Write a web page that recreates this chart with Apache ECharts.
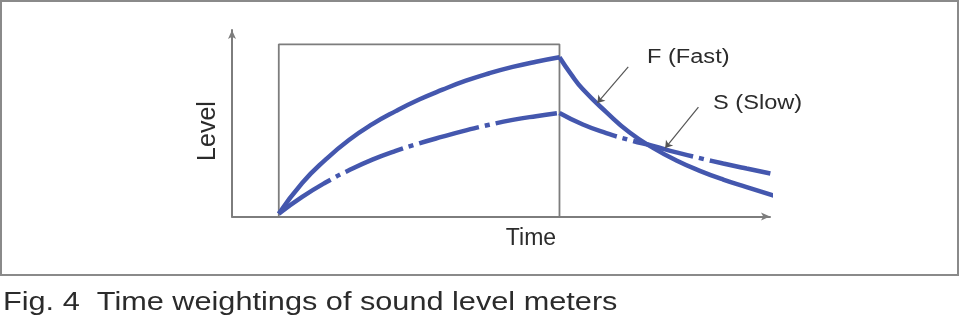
<!DOCTYPE html>
<html><head><meta charset="utf-8">
<script src="https://cdn.jsdelivr.net/npm/echarts@6/dist/echarts.min.js"></script>
<style>html,body{margin:0;padding:0;background:#fff}#c{width:960px;height:323px}</style>
</head><body><div id="c"></div>
<script>
// Time (arbitrary units) / Level (arbitrary units)
const fastRise  = [[1,0.15],[1.5,1.8],[2,3.05],[2.5,4.1],[3,4.95],[3.5,5.65],[4,6.27],[4.5,6.8],[5,7.28],[5.5,7.68],[6,8.02],[6.5,8.3],[7,8.54]];
const fastDecay = [[7,8.54],[7.25,7.62],[7.5,6.82],[8,5.6],[8.5,4.5],[9,3.68],[9.5,3.0],[10,2.45],[10.5,1.98],[11,1.58],[11.6,1.1]];
const slowRise  = [[1,0.15],[1.5,1.05],[2,1.82],[2.5,2.48],[3,3.05],[3.5,3.52],[4,3.92],[4.5,4.28],[5,4.62],[5.5,4.92],[6,5.18],[6.5,5.38],[7,5.55]];
const slowDecay = [[7,5.55],[7.5,4.93],[8,4.47],[8.5,4.1],[9,3.78],[9.5,3.44],[10,3.13],[10.5,2.84],[11,2.57],[11.6,2.26]];
const pulse     = [[1,0],[1,9.23],[7,9.23],[7,0]];
const fastPointer = [[8.47,8.02],[7.81,6.09]];
const slowPointer = [[9.97,5.87],[9.26,3.67]];
const labels = { fast: 'F (Fast)', slow: 'S (Slow)', x: 'Time', y: 'Level',
  caption: 'Fig. 4  Time weightings of sound level meters' };

const BLUE = '#4457ae', GRAY = '#7d7d7d', TXT = '#2b2b2b';
const FONT = '"Liberation Sans", Arial, sans-serif';
const chart = echarts.init(document.getElementById('c'), null, {renderer:'canvas'});

function curve(data, dashed){
  return { type:'line', data, smooth:0.5, symbol:'none', clip:false,
    lineStyle:{ color:BLUE, width:4.5, type: dashed ? [62,6,5,6] : 'solid', cap:'butt' },
    z:3, silent:true, animation:false };
}
chart.setOption({
  animation:false,
  grid:{ left:232, right:190, top:30, bottom:106.5 },
  xAxis:{ type:'value', min:0, max:11.5, axisTick:{show:false}, axisLabel:{show:false}, splitLine:{show:false},
    axisLine:{ show:true, symbol:['none','arrow'], symbolSize:[6,9], lineStyle:{color:GRAY, width:2} } },
  yAxis:{ type:'value', min:0, max:10, axisTick:{show:false}, axisLabel:{show:false}, splitLine:{show:false},
    axisLine:{ show:true, symbol:['none','arrow'], symbolSize:[6,9], lineStyle:{color:GRAY, width:2} } },
  series:[
    { type:'line', data:pulse, symbol:'none', lineStyle:{color:GRAY, width:1.8}, z:2, silent:true,
      markLine:{ silent:true, symbol:['none','arrow'], symbolSize:7, label:{show:false},
        lineStyle:{ color:'#555', width:1.2, type:'solid' },
        data:[ [{coord:fastPointer[0]},{coord:fastPointer[1]}], [{coord:slowPointer[0]},{coord:slowPointer[1]}] ] } },
    curve(fastRise,false), curve(fastDecay,false),
    curve(slowRise,true), curve(slowDecay,true)
  ],
  graphic:[
    { type:'rect', shape:{x:1, y:1, width:957, height:274}, style:{fill:'none', stroke:'#8a8a8a', lineWidth:2}, silent:true },
    { type:'text', x:647, y:57, scaleX:1.18, style:{ text:labels.fast, font:'20px '+FONT, fill:TXT, align:'left', verticalAlign:'middle' } },
    { type:'text', x:713, y:103, scaleX:1.18, style:{ text:labels.slow, font:'20px '+FONT, fill:TXT, align:'left', verticalAlign:'middle' } },
    { type:'text', x:531, y:239, style:{ text:labels.x, font:'23px '+FONT, fill:TXT, align:'center', verticalAlign:'middle' } },
    { type:'text', x:208, y:131, rotation:Math.PI/2, style:{ text:labels.y, font:'25px '+FONT, fill:TXT, align:'center', verticalAlign:'middle' } },
    { type:'text', x:3, y:303, scaleX:1.18, style:{ text:labels.caption, font:'26px '+FONT, fill:TXT, align:'left', verticalAlign:'middle' } }
  ]
});
</script></body></html>
